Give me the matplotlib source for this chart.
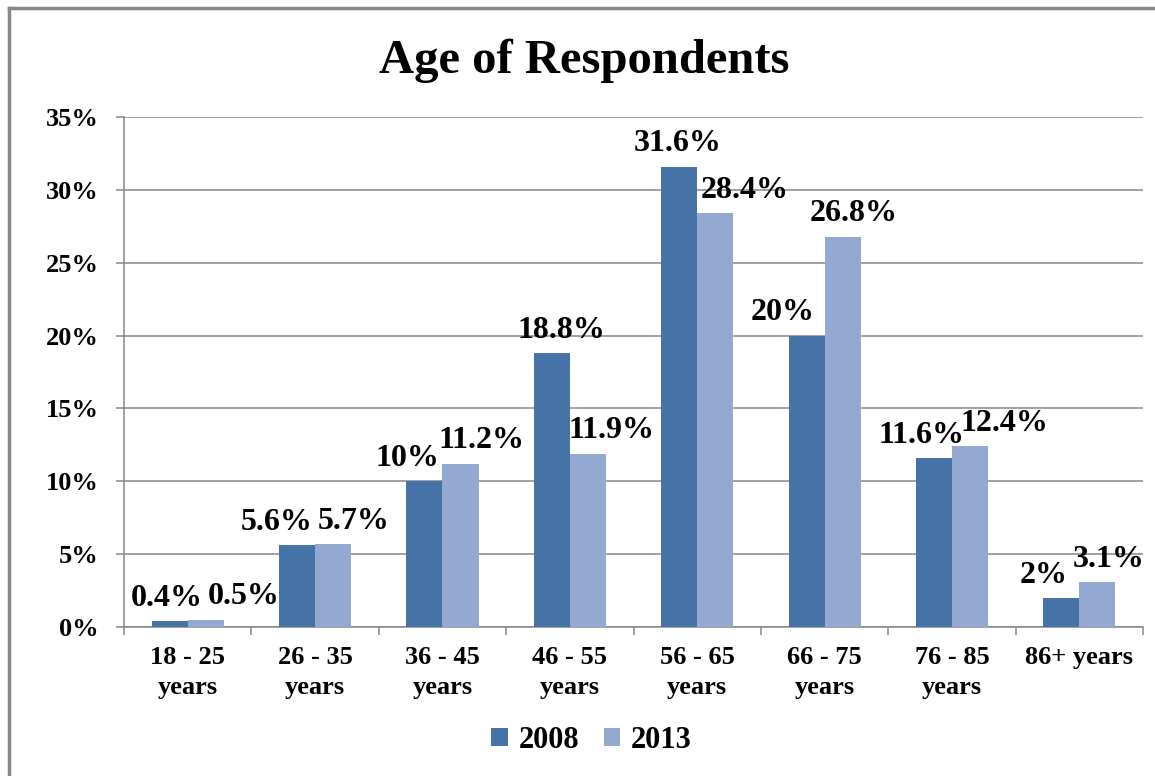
import matplotlib
matplotlib.use("Agg")
import matplotlib.pyplot as plt
import numpy as np
from matplotlib.ticker import MultipleLocator, FuncFormatter, FixedLocator

plt.rcParams['font.family'] = ['Liberation Serif', 'DejaVu Serif']
plt.rcParams['font.weight'] = 'bold'

# data
age_groups = ['18 - 25\nyears', '26 - 35\nyears', '36 - 45\nyears', '46 - 55\nyears',
              '56 - 65\nyears', '66 - 75\nyears', '76 - 85\nyears', '86+ years']
series_names = ['2008', '2013']
vals_2008 = [0.4, 5.6, 10, 18.8, 31.6, 20, 11.6, 2]
vals_2013 = [0.5, 5.7, 11.2, 11.9, 28.4, 26.8, 12.4, 3.1]

# label nudges (points) to mimic the spread-out labels of the original
off_2008 = [-2, -15, -12, 7, -1, -17, -9, -13]
off_2013 = [27, 15, 15, 17, 21, 8, 25, 8]

c_dark = '#4573A7'
c_light = '#94A9D1'

fig = plt.figure(figsize=(11.55, 7.76), dpi=100)
ax = fig.add_axes([0.1074, 0.192, 0.8822, 0.6572])

x = np.arange(len(age_groups))
w = 0.283
b1 = ax.bar(x - w / 2, vals_2008, w, color=c_dark, label=series_names[0], zorder=3)
b2 = ax.bar(x + w / 2, vals_2013, w, color=c_light, label=series_names[1], zorder=3)

def fmt(v):
    return ('%g' % v) + '%'

for rect, v, dx in zip(b1, vals_2008, off_2008):
    ax.annotate(fmt(v), (rect.get_x() + rect.get_width() / 2, v), xytext=(dx, 6),
                textcoords='offset points', ha='center', va='bottom',
                fontsize=23, fontweight='bold')
for rect, v, dx in zip(b2, vals_2013, off_2013):
    ax.annotate(fmt(v), (rect.get_x() + rect.get_width() / 2, v), xytext=(dx, 6),
                textcoords='offset points', ha='center', va='bottom',
                fontsize=23, fontweight='bold')

ax.set_xlim(-0.5, len(age_groups) - 0.5)
ax.set_ylim(0, 35)
ax.yaxis.set_major_locator(MultipleLocator(5))
ax.yaxis.set_major_formatter(FuncFormatter(lambda v, p: '%d%%' % v))
ax.grid(axis='y', color='#868686', linewidth=1.1, zorder=0)
ax.set_axisbelow(True)

ax.set_xticks(x)
ax.set_xticklabels(age_groups, fontsize=19, fontweight='bold', linespacing=1.36)
ax.xaxis.set_minor_locator(FixedLocator(np.arange(len(age_groups) + 1) - 0.5))
ax.tick_params(axis='x', which='major', length=0, pad=14)
ax.tick_params(axis='x', which='minor', length=6, color='#868686', width=1.1)
ax.tick_params(axis='y', length=6, color='#868686', width=1.1, pad=12, labelsize=19)
for lab in ax.get_yticklabels():
    lab.set_fontweight('bold')

for s in ['top', 'right']:
    ax.spines[s].set_visible(False)
for s in ['left', 'bottom']:
    ax.spines[s].set_color('#868686')
    ax.spines[s].set_linewidth(1.1)

fig.text(0.506, 0.922, 'Age of Respondents', ha='center', va='center',
         fontsize=35, fontweight='bold')

fig.legend(handles=[b1, b2], labels=series_names, loc='center', bbox_to_anchor=(0.512, 0.046),
           ncol=2, frameon=False, handlelength=0.55, handleheight=0.55,
           handletextpad=0.35, columnspacing=0.8, prop={'weight': 'bold', 'size': 22})

# outer chart border (only left and top visible in the crop)
fig.add_artist(plt.Line2D([0.0078, 0.0078], [0, 0.9897], color='#888888', linewidth=2.5,
                          transform=fig.transFigure))
fig.add_artist(plt.Line2D([0.0078, 1.0], [0.9897, 0.9897], color='#888888', linewidth=2.5,
                          transform=fig.transFigure))

fig.savefig('out.png', dpi=100, facecolor='white')
